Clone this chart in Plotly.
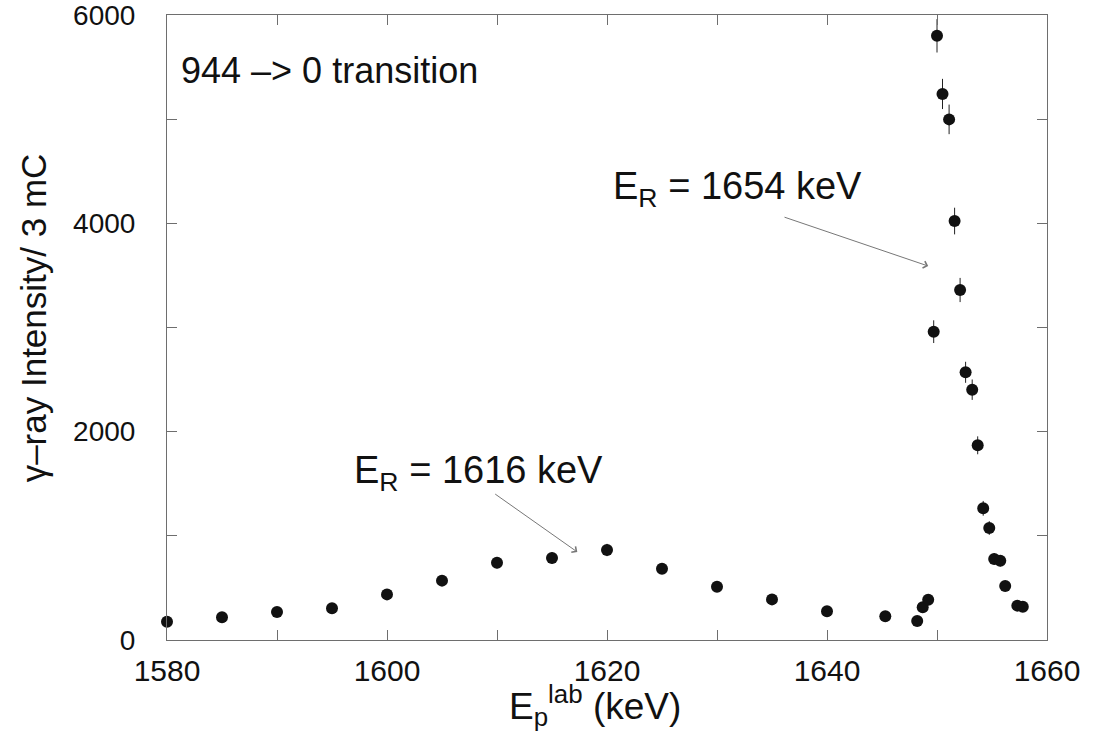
import plotly.graph_objects as go

# Data
energy_keV = [1580, 1585, 1590, 1595, 1600, 1605, 1610, 1615, 1620, 1625, 1630,
              1635, 1640, 1645.3, 1648.2, 1648.7, 1649.2, 1649.7, 1650.0, 1650.5,
              1651.1, 1651.6, 1652.1, 1652.6, 1653.2, 1653.7, 1654.2, 1654.75,
              1655.2, 1655.75, 1656.2, 1657.3, 1657.8]
intensity = [176, 218, 269, 304, 438, 570, 742, 787, 864, 685, 512,
             390, 275, 227, 182, 314, 387, 2960, 5800, 5242,
             4998, 4022, 3360, 2570, 2403, 1869, 1264, 1075,
             778, 761, 518, 330, 320]
intensity_err = [25, 30, 33, 35, 42, 48, 55, 56, 59, 52, 45,
                 40, 33, 30, 27, 35, 39, 109, 160, 145,
                 142, 128, 116, 101, 98, 86, 71, 66,
                 56, 55, 45, 36, 36]

x_range = [1580, 1660]
y_range = [0, 6000]

FONT = "Liberation Sans, Arial, Helvetica, sans-serif"
AX = "#6e6e6e"
TXT = "#111111"

fig = go.Figure()
fig.add_trace(go.Scatter(
    x=energy_keV, y=intensity, mode="markers",
    marker=dict(size=12, color=TXT),
    error_y=dict(type="data", array=intensity_err, visible=True,
                 color="#222222", thickness=1, width=0),
    showlegend=False, cliponaxis=False,
))

fig.update_layout(
    width=1093, height=736, autosize=False,
    margin=dict(l=167, r=46, t=15, b=96),
    paper_bgcolor="white", plot_bgcolor="white",
    font=dict(family=FONT, color=TXT),
)

fig.update_xaxes(
    range=x_range, dtick=20, tick0=1580, automargin=False,
    ticks="inside", ticklen=10, tickcolor=AX, tickwidth=1,
    minor=dict(dtick=10, ticks="inside", ticklen=10, tickcolor=AX),
    showline=True, linecolor=AX, linewidth=1, mirror="allticks",
    showgrid=False, zeroline=False,
    tickfont=dict(size=30, family=FONT, color=TXT),
    ticklabelstandoff=4, ticklabeloverflow="allow",
)
fig.update_yaxes(
    range=y_range, dtick=2000, tick0=0, automargin=False,
    ticks="inside", ticklen=10, tickcolor=AX, tickwidth=1,
    minor=dict(dtick=1000, ticks="inside", ticklen=10, tickcolor=AX),
    showline=True, linecolor=AX, linewidth=1, mirror="allticks",
    showgrid=False, zeroline=False,
    tickfont=dict(size=28, family=FONT, color=TXT),
    ticklabelstandoff=25, ticklabeloverflow="allow",
)

# axis titles as annotations for precise placement
fig.add_annotation(x=0.486, y=-0.105, xref="paper", yref="paper",
                   text="E<sub>p</sub><sup>lab</sup> (keV)", showarrow=False,
                   xanchor="center", yanchor="middle",
                   font=dict(size=37, family=FONT, color=TXT))
fig.add_annotation(x=-0.152, y=0.515, xref="paper", yref="paper",
                   text="\u03b3\u2013ray Intensity/ 3 mC", showarrow=False, textangle=-90,
                   xanchor="center", yanchor="middle",
                   font=dict(size=35, family=FONT, color=TXT))

fig.add_annotation(x=1581.1, y=5470, xref="x", yref="y", text="944 \u2013> 0 transition",
                   showarrow=False, xanchor="left", yanchor="middle",
                   font=dict(size=36, family=FONT, color=TXT))
fig.add_annotation(x=1620.35, y=4330, xref="x", yref="y", text="E<sub>R</sub> = 1654 keV",
                   showarrow=False, xanchor="left", yanchor="middle",
                   font=dict(size=38, family=FONT, color=TXT))
fig.add_annotation(x=1596.8, y=1602, xref="x", yref="y", text="E<sub>R</sub> = 1616 keV",
                   showarrow=False, xanchor="left", yanchor="middle",
                   font=dict(size=38, family=FONT, color=TXT))

# arrows
fig.add_annotation(x=1649.2, y=3590, ax=1636.0, ay=4064, xref="x", yref="y",
                   axref="x", ayref="y", text="", showarrow=True,
                   arrowhead=4, arrowsize=1.4, arrowwidth=1, arrowcolor="#777777")
fig.add_annotation(x=1617.3, y=845, ax=1609.7, ay=1411, xref="x", yref="y",
                   axref="x", ayref="y", text="", showarrow=True,
                   arrowhead=4, arrowsize=1.4, arrowwidth=1, arrowcolor="#777777")

fig.write_html("out.html", config={"displayModeBar": False},
               post_script="document.body.style.margin='0px';")
